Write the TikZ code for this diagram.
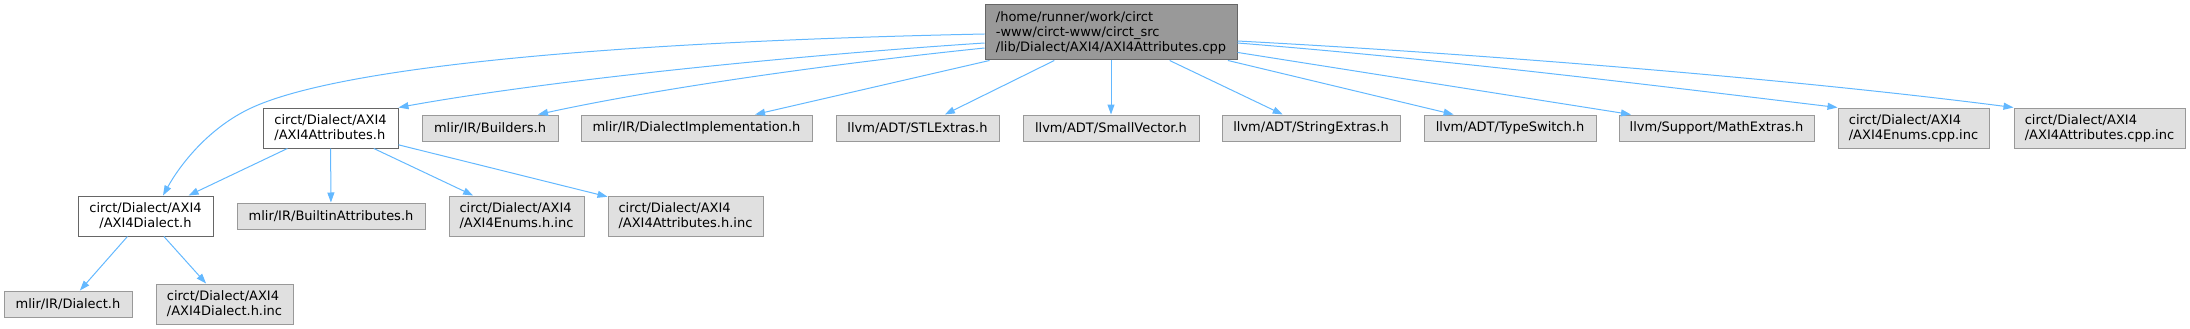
\documentclass[tikz,border=0pt]{standalone}
\usepackage{fontspec}
\setmainfont{DejaVu Sans}
\usetikzlibrary{arrows.meta}
\definecolor{edgeblue}{HTML}{63B8FF}
\definecolor{grayfill}{HTML}{E0E0E0}
\definecolor{grayline}{HTML}{999999}
\definecolor{darkline}{HTML}{666666}
\definecolor{topfill}{HTML}{999999}
\begin{document}
\begin{tikzpicture}[x=1pt,y=-1pt,
  box/.style={draw, line width=1pt, inner sep=0pt, font=\fontsize{13}{15}\selectfont, align=left, minimum height=26pt},
  extbox/.style={box, fill=grayfill, draw=grayline},
  hdrbox/.style={box, fill=white, draw=darkline},
  mainbox/.style={box, fill=topfill, draw=darkline},
  dep/.style={draw=edgeblue, line width=1pt, -{Triangle[length=10pt,width=7pt]}}
]
\useasboundingbox (0,0) rectangle (2190,329);

\node[mainbox, minimum width=252pt, minimum height=55pt] (T) at (1111,32.5) {/home/runner/work/circt\\-www/circt-www/circt\_src\\/lib/Dialect/AXI4/AXI4Attributes.cpp};
\node[hdrbox, minimum width=135pt, minimum height=40pt] (A) at (330.5,128) {circt/Dialect/AXI4\\/AXI4Attributes.h};
\node[hdrbox, minimum width=135pt, minimum height=40pt, align=center] (D) at (145.5,216) {circt/Dialect/AXI4\\/AXI4Dialect.h};
\node[extbox, minimum width=128pt] (irdia) at (68,304) {mlir/IR/Dialect.h};
\node[extbox, minimum width=137pt, minimum height=40pt] (dinc) at (224.5,304) {circt/Dialect/AXI4\\/AXI4Dialect.h.inc};
\node[extbox, minimum width=188pt] (builtin) at (331,216) {mlir/IR/BuiltinAttributes.h};
\node[extbox, minimum width=135pt, minimum height=40pt] (enh) at (516.5,216) {circt/Dialect/AXI4\\/AXI4Enums.h.inc};
\node[extbox, minimum width=155pt, minimum height=40pt] (ahinc) at (685.5,216) {circt/Dialect/AXI4\\/AXI4Attributes.h.inc};
\node[extbox, minimum width=136pt] (builders) at (490,128) {mlir/IR/Builders.h};
\node[extbox, minimum width=231pt] (dimpl) at (696.5,128) {mlir/IR/DialectImplementation.h};
\node[extbox, minimum width=163pt] (stl) at (917.5,128) {llvm/ADT/STLExtras.h};
\node[extbox, minimum width=176pt] (small) at (1111,128) {llvm/ADT/SmallVector.h};
\node[extbox, minimum width=178pt] (strx) at (1311,128) {llvm/ADT/StringExtras.h};
\node[extbox, minimum width=172pt] (tsw) at (1510,128) {llvm/ADT/TypeSwitch.h};
\node[extbox, minimum width=195pt] (math) at (1716.5,128) {llvm/Support/MathExtras.h};
\node[extbox, minimum width=151pt, minimum height=40pt] (ecpp) at (1913.5,128) {circt/Dialect/AXI4\\/AXI4Enums.cpp.inc};
\node[extbox, minimum width=171pt, minimum height=40pt] (acpp) at (2099.5,128) {circt/Dialect/AXI4\\/AXI4Attributes.cpp.inc};

\draw[dep] ([yshift=-1.5pt]T.west) .. controls (600,42) and (330,68) .. (247,110) .. controls (207,130) and (180,165) .. ([xshift=17.5pt]D.north);
\draw[dep] ([yshift=-10.5pt]T.west) .. controls (800,55) and (550,80) .. (A.north east);
\draw[dep] ([yshift=-15.5pt]T.west) .. controls (820,65) and (650,90) .. ([xshift=48pt]builders.north);
\draw[dep] (T) -- (dimpl);
\draw[dep] (T) -- (stl);
\draw[dep] (T) -- (small);
\draw[dep] (T) -- (strx);
\draw[dep] (T) -- (tsw);
\draw[dep] (T) -- (math);
\draw[dep] ([yshift=-10.5pt]T.east) .. controls (1450,60) and (1650,85) .. (ecpp.north west);
\draw[dep] ([yshift=-8.5pt]T.east) .. controls (1500,55) and (1800,80) .. (acpp.north west);

\draw[dep] (A) -- (D);
\draw[dep] (A) -- (builtin);
\draw[dep] (A) -- (enh);
\draw[dep] (A) -- (ahinc);
\draw[dep] (D) -- (irdia);
\draw[dep] (D) -- (dinc);
\end{tikzpicture}
\end{document}
